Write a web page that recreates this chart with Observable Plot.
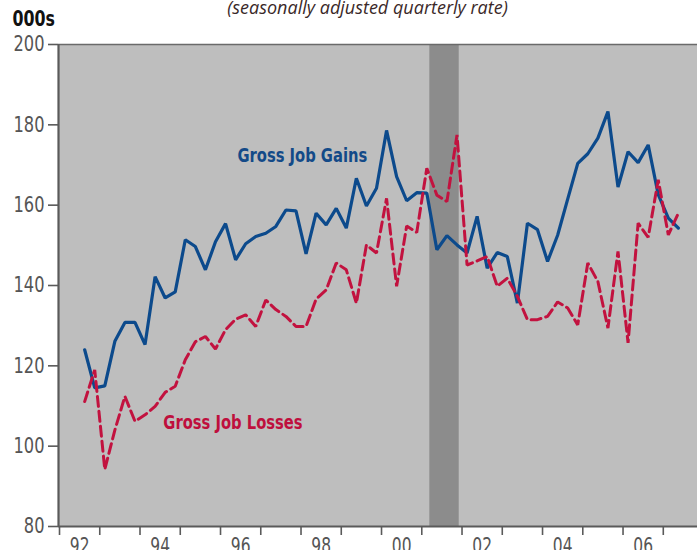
<!DOCTYPE html>
<html><head><meta charset="utf-8">
<script src="https://cdn.jsdelivr.net/npm/d3@7"></script>
<script src="https://cdn.jsdelivr.net/npm/@observablehq/plot@0.6"></script>
<style>body{margin:0;background:#fff}#chart svg{display:block}</style>
</head><body><div id="chart"></div>
<script>
const quarters = [
  "1992Q3","1992Q4",
  "1993Q1","1993Q2","1993Q3","1993Q4",
  "1994Q1","1994Q2","1994Q3","1994Q4",
  "1995Q1","1995Q2","1995Q3","1995Q4",
  "1996Q1","1996Q2","1996Q3","1996Q4",
  "1997Q1","1997Q2","1997Q3","1997Q4",
  "1998Q1","1998Q2","1998Q3","1998Q4",
  "1999Q1","1999Q2","1999Q3","1999Q4",
  "2000Q1","2000Q2","2000Q3","2000Q4",
  "2001Q1","2001Q2","2001Q3","2001Q4",
  "2002Q1","2002Q2","2002Q3","2002Q4",
  "2003Q1","2003Q2","2003Q3","2003Q4",
  "2004Q1","2004Q2","2004Q3","2004Q4",
  "2005Q1","2005Q2","2005Q3","2005Q4",
  "2006Q1","2006Q2","2006Q3","2006Q4",
  "2007Q1","2007Q2"
];
const gains = [
  124.0,114.5,
  115.0,126.1,130.8,130.8,
  125.3,142.2,136.9,138.4,
  151.4,149.7,143.9,150.9,
  155.4,146.4,150.4,152.2,
  153.0,154.7,158.8,158.6,
  147.9,158.0,155.1,159.2,
  154.3,166.7,159.8,164.2,
  178.6,167.1,161.1,163.1,
  163.0,148.9,152.4,150.1,
  148.1,157.2,144.3,148.2,
  147.2,135.6,155.5,153.9,
  146.0,152.5,161.5,170.4,
  172.8,176.7,183.3,164.5,
  173.3,170.6,175.0,162.6,
  156.8,154.3
];
const losses = [
  111.1,119.0,
  94.2,104.0,112.4,106.2,
  107.8,109.9,113.4,114.9,
  121.5,126.0,127.3,124.2,
  129.0,131.6,132.7,129.8,
  136.4,134.0,132.3,129.8,
  129.8,136.6,138.9,145.6,
  143.9,135.6,150.1,148.1,
  161.7,139.8,154.8,153.2,
  169.2,162.5,160.9,177.5,
  145.1,146.1,147.2,139.8,
  141.8,137.3,131.5,131.5,
  132.3,135.9,134.4,130.2,
  145.6,141.0,129.4,148.5,
  125.7,155.5,152.0,166.3,
  152.6,158.0
];
const yTicks = [80,100,120,140,160,180,200];
const xTickYears = [1992,1993,1994,1995,1996,1997,1998,1999,2000,2001,2002,2003,2004,2005,2006,2007];
const labelYears = [1992,1994,1996,1998,2000,2002,2004,2006];
const tickLabels = ["92","94","96","98","00","02","04","06"];
const recessionStart = [2001.2];
const recessionEnd = [2001.93];
const unitLabel = "000s";
const subtitle = "(seasonally adjusted quarterly rate)";
const gainsName = "Gross Job Gains";
const lossesName = "Gross Job Losses";

const qx = s => +s.slice(0,4) + (+s.slice(5) - 0.5) / 4;
const gainsData = quarters.map((q,i) => ({x: qx(q), v: gains[i]}));
const lossesData = quarters.map((q,i) => ({x: qx(q), v: losses[i]}));
const rec = recessionStart.map((s,i) => ({s, e: recessionEnd[i]}));

const BLUE = "#0c4a8c", RED = "#c2123f", AX = "#5a5a5a";
const narrow = "'Liberation Sans Narrow', 'DejaVu Sans Condensed', sans-serif";

const chart = Plot.plot({
  width: 697, height: 550,
  marginTop: 44, marginLeft: 58, marginRight: 0, marginBottom: 24,
  style: {background: "#fff", fontFamily: narrow, overflow: "visible"},
  x: {type: "linear", domain: [1991.975, 2007.85], axis: null},
  y: {type: "linear", domain: [80, 200], axis: null},
  marks: [
    Plot.frame({fill: "#bebebe", stroke: "none"}),
    Plot.rect(rec, {x1: "s", x2: "e", y1: 80, y2: 200, fill: "#8c8c8c"}),
    Plot.line(gainsData, {x: "x", y: "v", stroke: BLUE, strokeWidth: 3.2, strokeLinejoin: "miter"}),
    Plot.line(lossesData, {x: "x", y: "v", stroke: RED, strokeWidth: 3, strokeDasharray: "10,5", strokeLinejoin: "miter"}),
    Plot.ruleY([200], {stroke: "#6a6a6a", strokeWidth: 1.5}),
    Plot.ruleY([80], {stroke: AX, strokeWidth: 2}),
    Plot.ruleX([1991.975], {stroke: AX, strokeWidth: 2.2}),
    Plot.axisY(yTicks, {tickSize: 10, tickPadding: 4, fontSize: 21, stroke: AX, fill: "#555", label: null, strokeWidth: 1.6}),
    Plot.axisX(xTickYears, {tickSize: 9, tickFormat: () => "", stroke: AX, strokeWidth: 1.6, label: null}),
    Plot.text(labelYears, {x: d => d + 0.5, y: 80, text: (d,i) => tickLabels[i], lineAnchor: "top", dy: 12, fontSize: 21, fill: "#555"}),
    Plot.text([gainsName], {x: 1996.42, y: 172.4, text: d => d, textAnchor: "start", fontSize: 20, fontWeight: "bold", fill: "#134a88"}),
    Plot.text([lossesName], {x: 1994.58, y: 105.8, text: d => d, textAnchor: "start", fontSize: 20, fontWeight: "bold", fill: "#bf0f3d"}),
    Plot.text([unitLabel], {frameAnchor: "top-left", dx: -46, dy: -34, text: d => d, textAnchor: "start", lineAnchor: "top", fontSize: 22, fontWeight: "bold", fill: "#111"}),
    Plot.text([subtitle], {frameAnchor: "top-left", dx: 309, dy: -31, text: d => d, textAnchor: "middle", lineAnchor: "bottom", fontSize: 18, fontStyle: "italic", fill: "#3a2828", fontFamily: "'Open Sans', sans-serif"})
  ]
});
document.getElementById("chart").appendChild(chart);

// Condense the narrow-style texts horizontally (no condensed face is installed)
const squeeze = new Map([
  [gainsName, 0.82], [lossesName, 0.82], [unitLabel, 0.8]
]);
tickLabels.forEach(t => squeeze.set(t, 0.82));
yTicks.forEach(t => squeeze.set(String(t), 0.86));
d3.select(chart).selectAll("text").each(function() {
  const s = squeeze.get(this.textContent.trim());
  if (!s) return;
  const x = +(this.getAttribute("x") || 0);
  const t = this.getAttribute("transform") || "";
  this.setAttribute("transform", `${t} translate(${x},0) scale(${s},1) translate(${-x},0)`);
});
</script>
</body></html>
